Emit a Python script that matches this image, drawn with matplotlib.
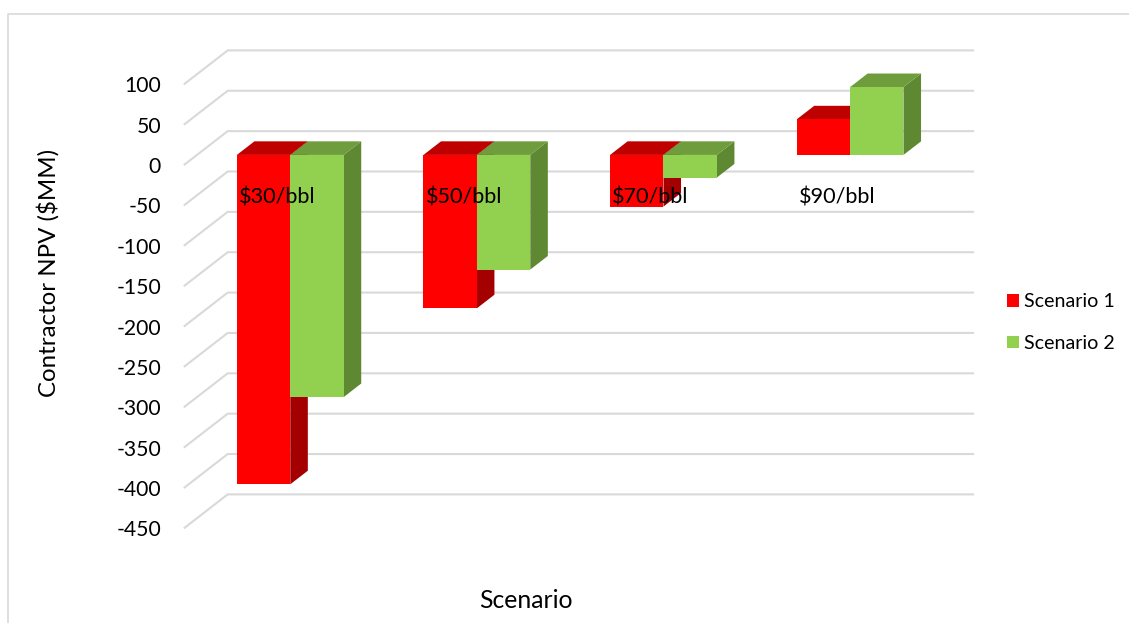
import matplotlib
matplotlib.use("Agg")
import matplotlib.pyplot as plt
from matplotlib.patches import Polygon, Patch
from matplotlib.lines import Line2D

categories = ["$30/bbl", "$50/bbl", "$70/bbl", "$90/bbl"]
scenario_1 = [-408, -190, -64, 44]
scenario_2 = [-300, -142, -28, 84]
series_names = ["Scenario 1", "Scenario 2"]
y_ticks = [100, 50, 0, -50, -100, -150, -200, -250, -300, -350, -400, -450]

W, H = 1129, 623
plt.rcParams["font.family"] = ["Lato", "DejaVu Sans"]
fig = plt.figure(figsize=(W / 100, H / 100), dpi=100)

# Front plane of the oblique 3D box, in pixels
L, R, T, B = 183.8, 930.2, 84.4, 528.4
ax = fig.add_axes([L / W, 1 - B / H, (R - L) / W, (B - T) / H])
ax.set_xlim(0, 4)
ax.set_ylim(-450, 100)
ax.patch.set_visible(False)

px_x = (R - L) / 4
px_v = (B - T) / 550
DEPTH_X = 43.9 / px_x   # category units for full box depth
DEPTH_V = 34.0 / px_v   # value units for full box depth


def proj(x, v, d):
    return x + d * DEPTH_X, v + d * DEPTH_V


GRID = "#d9d9d9"
for v in y_ticks:
    p0 = proj(0, v, 0)
    p1 = proj(0, v, 1)
    p2 = proj(4, v, 1)
    ax.plot([p0[0], p1[0], p2[0]], [p0[1], p1[1], p2[1]], color=GRID, lw=1.5,
            clip_on=False, zorder=0.5, solid_joinstyle="miter", solid_capstyle="butt")

BAR_W = 53.4 / px_x
D0, D1 = 0.30, 0.70
colors = [("#ff0000", "#bf0000", "#a50000"), ("#92d050", "#6f9c3c", "#5f8832")]

z = 1.0
for i, vals in enumerate(zip(scenario_1, scenario_2)):
    centre = i + 0.5
    for j, val in enumerate(vals):
        front, top_c, side_c = colors[j]
        x0 = centre - BAR_W + j * BAR_W
        x1 = x0 + BAR_W
        hi, lo = max(val, 0), min(val, 0)
        side = [proj(x1, hi, D0), proj(x1, hi, D1), proj(x1, lo, D1), proj(x1, lo, D0)]
        top = [proj(x0, hi, D0), proj(x0, hi, D1), proj(x1, hi, D1), proj(x1, hi, D0)]
        face = [proj(x0, hi, D0), proj(x1, hi, D0), proj(x1, lo, D0), proj(x0, lo, D0)]
        for pts, c in ((side, side_c), (top, top_c), (face, front)):
            ax.add_patch(Polygon(pts, closed=True, facecolor=c, edgecolor="none",
                                 clip_on=False, zorder=z))
            z += 0.001

for s in ax.spines.values():
    s.set_visible(False)
ax.spines["bottom"].set_position(("data", 0))

ax.set_yticks(y_ticks)
ax.set_yticklabels([str(v) for v in y_ticks], fontsize=15.2, color="#000000")
ax.tick_params(axis="y", length=0, pad=16.4)
ax.set_xticks([i + 0.5 for i in range(4)])
ax.set_xticklabels(categories, fontsize=15.6, color="#000000")
ax.tick_params(axis="x", length=0, pad=16.2)
ax.set_axisbelow(False)

fig.text(526 / W, 1 - 601 / H, "Scenario", fontsize=17.8, ha="center", va="center")
fig.text(48.5 / W, 1 - 273 / H, "Contractor NPV ($MM)", fontsize=17.3, rotation=90,
         ha="center", va="center")

handles = [Patch(facecolor=colors[k][0], edgecolor="none") for k in range(2)]
fig.legend(handles, series_names, loc="center left",
           bbox_to_anchor=(1003 / W, 1 - 322.7 / H), frameon=False, fontsize=14.1,
           handlelength=0.62, handleheight=0.62, handletextpad=0.26, labelspacing=1.26,
           borderpad=0.2, borderaxespad=0)

fig.add_artist(Line2D([8 / W, 8 / W, 1], [0, 1 - 13.5 / H, 1 - 13.5 / H], color="#d9d9d9", lw=1.2))

fig.savefig("out.png", dpi=100)
